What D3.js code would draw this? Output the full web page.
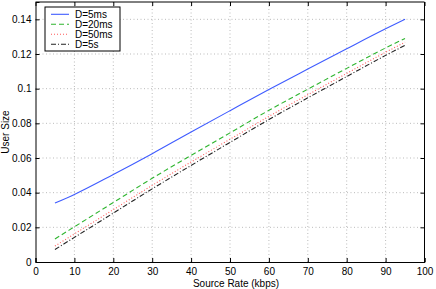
<!DOCTYPE html>
<html>
<head>
<meta charset="utf-8">
<script src="https://cdn.jsdelivr.net/npm/d3@7"></script>
<style>
  body { margin: 0; background: #fff; }
  svg { display: block; font-family: "Liberation Sans", Arial, sans-serif; }
</style>
</head>
<body>
<div id="chart"></div>
<script>
const rates = [5, 10, 20, 30, 40, 50, 60, 70, 80, 90, 95];
const d5ms  = [0.0340, 0.0390, 0.0505, 0.0625, 0.0750, 0.0873, 0.0995, 0.1113, 0.1230, 0.1345, 0.1400];
const d20ms = [0.0133, 0.0203, 0.0343, 0.0483, 0.0615, 0.0745, 0.0875, 0.0997, 0.1117, 0.1235, 0.1290];
const d50ms = [0.0092, 0.0162, 0.0302, 0.0442, 0.0577, 0.0708, 0.0840, 0.0965, 0.1088, 0.1210, 0.1268];
const d5s   = [0.0072, 0.0142, 0.0282, 0.0422, 0.0557, 0.0690, 0.0822, 0.0947, 0.1070, 0.1192, 0.1250];
const seriesNames = ["D=5ms", "D=20ms", "D=50ms", "D=5s"];
const xTicks = [0, 10, 20, 30, 40, 50, 60, 70, 80, 90, 100];
const yTicks = [0, 0.02, 0.04, 0.06, 0.08, 0.1, 0.12, 0.14];

(function() {
    const W = 436, H = 289;
    const margin = {top: 2, right: 11.5, bottom: 27, left: 35.5};
    const width = W - margin.left - margin.right;
    const height = H - margin.top - margin.bottom;

    const svg = d3.select("#chart").append("svg")
        .attr("width", W).attr("height", H)
        .append("g")
        .attr("transform", `translate(${margin.left},${margin.top})`);

    const x = d3.scaleLinear().domain([0, 100]).range([0, width]);
    const y = d3.scaleLinear().domain([0, 0.15]).range([height, 0]);

    // grid
    const grid = svg.append("g").attr("stroke", "#aaa").attr("stroke-width", 0.8)
        .attr("stroke-dasharray", "1,2.5");
    xTicks.slice(1, -1).forEach(t => {
        grid.append("line").attr("x1", x(t)).attr("x2", x(t)).attr("y1", 0).attr("y2", height);
    });
    yTicks.slice(1).forEach(t => {
        grid.append("line").attr("x1", 0).attr("x2", width).attr("y1", y(t)).attr("y2", y(t));
    });

    // axes (ticks inward, MATLAB style)
    const fmtY = d => d === 0 ? "0" : d3.format("")(+d.toFixed(2));
    const axB = svg.append("g").attr("transform", `translate(0,${height})`)
        .call(d3.axisBottom(x).tickValues(xTicks).tickSize(-4).tickPadding(6));
    const axL = svg.append("g")
        .call(d3.axisLeft(y).tickValues(yTicks).tickFormat(fmtY).tickSize(-4).tickPadding(4));
    const axT = svg.append("g")
        .call(d3.axisTop(x).tickValues(xTicks).tickSize(-4).tickFormat(""));
    const axR = svg.append("g").attr("transform", `translate(${width},0)`)
        .call(d3.axisRight(y).tickValues(yTicks).tickSize(-4).tickFormat(""));
    [axB, axL, axT, axR].forEach(a => {
        a.select(".domain").attr("stroke", "#000").attr("stroke-width", 1);
        a.selectAll(".tick line").attr("stroke", "#000");
        a.selectAll("text").attr("font-size", "10px").attr("fill", "#000")
            .attr("font-family", "'Liberation Sans', Arial, sans-serif");
    });
    axT.select(".domain").attr("d", `M0,0H${width}`);
    axR.select(".domain").attr("d", `M0,${height}V0`);

    // lines
    const styles = [
        {color: "#3f5cff", dash: null, w: 1.1},
        {color: "#2fb52f", dash: "5,3", w: 1.1},
        {color: "#ff5a5a", dash: "1,2", w: 1.1},
        {color: "#222", dash: "5,2,1,2", w: 1.1}
    ];
    const allSeries = [d5ms, d20ms, d50ms, d5s];
    const line = d3.line().x(d => x(d[0])).y(d => y(d[1])).curve(d3.curveMonotoneX);
    allSeries.forEach((vals, i) => {
        svg.append("path")
            .datum(rates.map((r, j) => [r, vals[j]]))
            .attr("fill", "none")
            .attr("stroke", styles[i].color)
            .attr("stroke-width", styles[i].w)
            .attr("stroke-dasharray", styles[i].dash)
            .attr("d", line);
    });

    // legend
    const legend = svg.append("g").attr("transform", `translate(${45 - margin.left},${7 - margin.top})`);
    legend.append("rect").attr("width", 75).attr("height", 44)
        .attr("fill", "#fff").attr("stroke", "#000").attr("stroke-width", 1);
    seriesNames.forEach((name, i) => {
        const row = legend.append("g").attr("transform", `translate(0,${7.3 + i * 10})`);
        row.append("line").attr("x1", 6).attr("x2", 24).attr("y1", 0).attr("y2", 0)
            .attr("stroke", styles[i].color).attr("stroke-width", styles[i].w)
            .attr("stroke-dasharray", styles[i].dash);
        row.append("text").attr("x", 30).attr("y", 3.5).attr("font-size", "10px")
            .text(name);
    });

    // axis labels
    svg.append("text")
        .attr("x", width / 2 + 6).attr("y", height + 24.5)
        .attr("text-anchor", "middle").attr("font-size", "10px")
        .text("Source Rate (kbps)");
    svg.append("text")
        .attr("transform", "rotate(-90)")
        .attr("x", -height / 2).attr("y", -27)
        .attr("text-anchor", "middle").attr("font-size", "10px")
        .text("User Size");
})();
</script>
</body>
</html>
